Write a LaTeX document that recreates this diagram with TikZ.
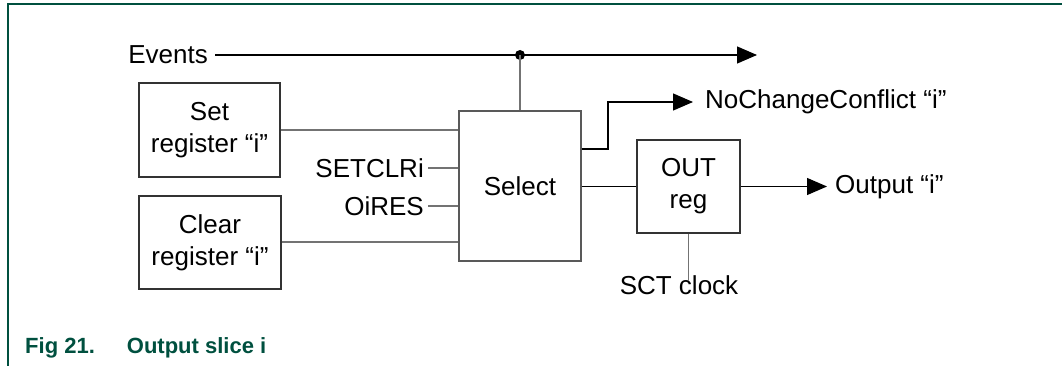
\documentclass[tikz,border=0pt]{standalone}
\usepackage{fontspec}
\setmainfont{Liberation Sans}
\usetikzlibrary{arrows.meta, positioning}
\definecolor{figgreen}{HTML}{00503F}

\begin{document}
\begin{tikzpicture}[
        x=1pt,
        y=-1pt,
        font=\fontsize{26}{32}\selectfont,
        regbox/.style={
            draw=black!80,
            line width=1.1pt,
            align=center,
            inner sep=0pt
        },
        wire/.style={
            draw=black,
            line width=1.2pt
        },
        greywire/.style={
            draw=black!55,
            line width=1.6pt
        },
        sigarrow/.style={
            wire,
            -{Triangle[length=20pt,width=17pt]}
        }
    ]

        \useasboundingbox (0,0) rectangle (1062,366);

        % Rahmen
        \draw[figgreen, line width=2pt]
            (8,366) -- (8,4) -- (1062,4);

        % Register und Auswahl
        \node[regbox, minimum width=141pt, minimum height=94pt]
            (setreg) at (209.5,130) {Set\\register “i”};
        \node[regbox, minimum width=142pt, minimum height=93pt]
            (clrreg) at (210,242.5) {Clear\\register “i”};
        \node[regbox, draw=black!65, minimum width=122pt, minimum height=150pt]
            (select) at (520,186) {Select};
        \node[regbox, minimum width=103pt, minimum height=93pt]
            (outreg) at (688.5,186.5) {OUT\\reg};

        % Events
        \node[anchor=east, inner sep=0pt]
            (events) at (208,55) {Events};
        \coordinate (evdot) at (520,55);
        \coordinate (evend) at (757,55);
        \draw[sigarrow]
            ([xshift=7pt]events.east) -- (evend);
        \fill (evdot) circle (5pt);
        \draw[greywire]
            (evdot) -- (select.north);

        % Eingaenge
        \draw[greywire]
            (setreg.east |- 0,130) -- (select.west |- 0,130);
        \draw[greywire]
            (clrreg.east |- 0,242) -- (select.west |- 0,242);

        \node[anchor=east, inner sep=0pt]
            (setclr) at (424,168) {SETCLRi};
        \draw[greywire]
            ([xshift=4pt]setclr.east) -- (select.west |- setclr.east);

        \node[anchor=east, inner sep=0pt]
            (oires) at (424,206) {OiRES};
        \draw[greywire]
            ([xshift=4pt]oires.east) -- (select.west |- oires.east);

        % Ausgaenge
        \node[anchor=west, inner sep=0pt]
            (nochg) at (705,102) {NoChangeConflict “i”};
        \coordinate (nochgbend) at (608,149);
        \draw[sigarrow]
            (select.east |- nochgbend) -- (nochgbend)
            -- (nochgbend |- nochg.west) -- ([xshift=-12pt]nochg.west);

        \draw[wire]
            (select.east |- outreg.west) -- (outreg.west);

        \node[anchor=west, inner sep=0pt]
            (outsig) at (835,186.5) {Output “i”};
        \draw[sigarrow]
            (outreg.east) -- ([xshift=-8pt]outsig.west);

        % Takt
        \node[inner sep=0pt]
            (sctclk) at (679,285) {SCT clock};
        \draw[greywire]
            (outreg.south) -- ([yshift=-6pt]outreg.south |- sctclk.north);

        % Bildunterschrift
        \node[
            anchor=base west,
            inner sep=0pt,
            text=figgreen,
            font=\fontsize{22}{26}\selectfont\bfseries
        ] (caption) at (25,353)
            {Fig 21.\hspace{32pt}Output slice i};

    \end{tikzpicture}
\end{document}
